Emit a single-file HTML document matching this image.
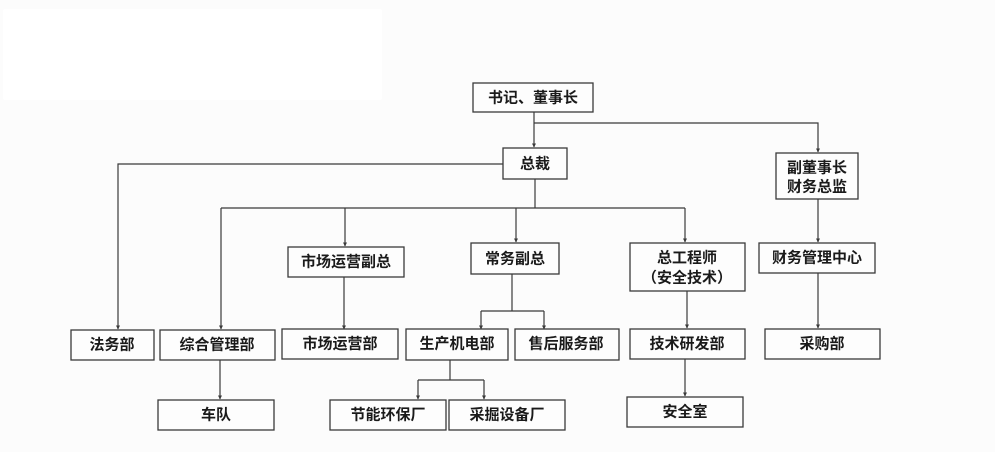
<!DOCTYPE html>
<html><head><meta charset="utf-8"><style>
html,body{margin:0;padding:0;background:#fcfcfc;}
svg{display:block}
text{font-family:"Liberation Sans","Noto Sans CJK SC",sans-serif;font-size:15px;font-weight:600;fill:#1a1a1a;text-anchor:middle;dominant-baseline:central;}
rect.b{fill:#fdfdfd;stroke:#3a3a3a;stroke-width:1.3}
line,polyline{stroke:#3a3a3a;stroke-width:1.2;fill:none}
</style></head><body>
<svg width="995" height="452" viewBox="0 0 995 452" xmlns="http://www.w3.org/2000/svg">
<defs>
<marker id="d" markerWidth="6" markerHeight="6" refX="3" refY="5.5" markerUnits="userSpaceOnUse"><path d="M1,2 L5,2 L3,6 Z" fill="#3a3a3a"/></marker></defs>
<rect x="3" y="9" width="379" height="91" rx="2" fill="#ffffff"/>
<g>
<polyline points="534,112 534,147" marker-end="url(#d)"/>
<polyline points="534,123 818,123 818,152" marker-end="url(#d)"/>
<polyline points="503,164 118,164 118,329" marker-end="url(#d)"/>
<polyline points="535,179 535,208"/>
<polyline points="221,208 685,208"/>
<polyline points="221,208 221,329" marker-end="url(#d)"/>
<polyline points="345,208 345,246" marker-end="url(#d)"/>
<polyline points="516,208 516,242" marker-end="url(#d)"/>
<polyline points="685,208 685,242" marker-end="url(#d)"/>
<polyline points="512,274 512,311"/>
<polyline points="481,311 544,311"/>
<polyline points="481,311 481,329" marker-end="url(#d)"/>
<polyline points="544,311 544,329" marker-end="url(#d)"/>
<polyline points="344,277 344,329" marker-end="url(#d)"/>
<polyline points="450,360 450,380"/>
<polyline points="418,380 484,380"/>
<polyline points="418,380 418,399" marker-end="url(#d)"/>
<polyline points="484,380 484,399" marker-end="url(#d)"/>
<polyline points="220,360 220,399" marker-end="url(#d)"/>
<polyline points="687,291 687,328" marker-end="url(#d)"/>
<polyline points="685,359 685,396" marker-end="url(#d)"/>
<polyline points="818,199 818,242" marker-end="url(#d)"/>
<polyline points="818,273 818,328" marker-end="url(#d)"/>
</g>
<rect class="b" x="473" y="83" width="120" height="29"/><text x="533" y="98">书记、董事长</text>
<rect class="b" x="503" y="148" width="64" height="31"/><text x="535" y="164">总裁</text>
<rect class="b" x="776" y="153" width="82" height="46"/><text x="817" y="168">副董事长</text><text x="817" y="187">财务总监</text>
<rect class="b" x="288" y="247" width="116" height="30"/><text x="346" y="262">市场运营副总</text>
<rect class="b" x="471" y="243" width="88" height="31"/><text x="515" y="259">常务副总</text>
<rect class="b" x="630" y="243" width="115" height="48"/><text x="687" y="258">总工程师</text><text x="687" y="278">（安全技术）</text>
<rect class="b" x="759" y="243" width="116" height="30"/><text x="817" y="258">财务管理中心</text>
<rect class="b" x="71" y="330" width="83" height="30"/><text x="112" y="345">法务部</text>
<rect class="b" x="160" y="330" width="115" height="30"/><text x="217" y="345">综合管理部</text>
<rect class="b" x="282" y="329" width="116" height="30"/><text x="340" y="344">市场运营部</text>
<rect class="b" x="406" y="329" width="102" height="31"/><text x="457" y="344">生产机电部</text>
<rect class="b" x="515" y="329" width="104" height="31"/><text x="566" y="344">售后服务部</text>
<rect class="b" x="630" y="329" width="115" height="30"/><text x="687" y="344">技术研发部</text>
<rect class="b" x="765" y="329" width="115" height="30"/><text x="822" y="344">采购部</text>
<rect class="b" x="158" y="400" width="116" height="30"/><text x="216" y="415">车队</text>
<rect class="b" x="330" y="400" width="116" height="30"/><text x="388" y="415">节能环保厂</text>
<rect class="b" x="449" y="400" width="116" height="30"/><text x="507" y="415">采掘设备厂</text>
<rect class="b" x="627" y="397" width="116" height="30"/><text x="685" y="412">安全室</text>
</svg>
</body></html>
